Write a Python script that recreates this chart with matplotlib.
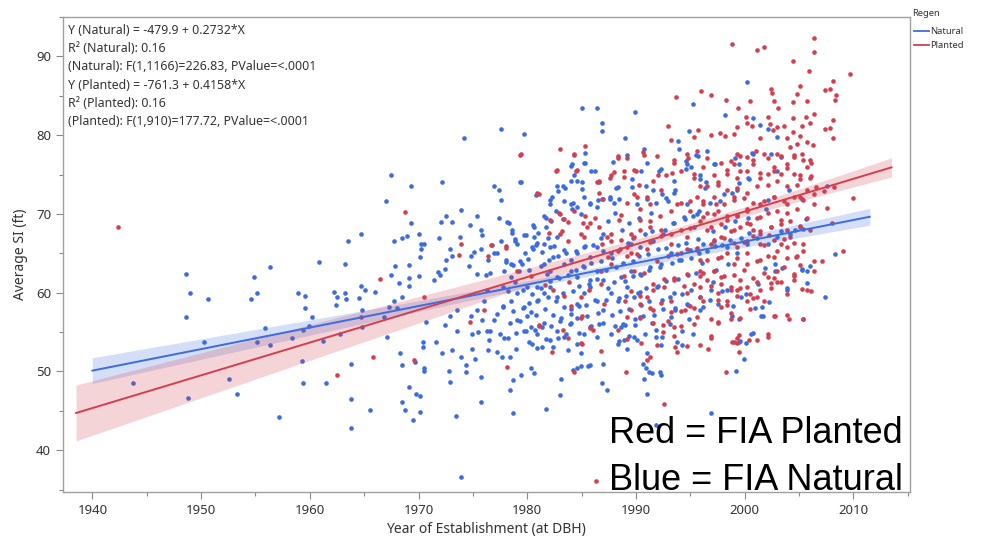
import matplotlib
matplotlib.use("Agg")
import matplotlib.pyplot as plt
import numpy as np
from matplotlib.lines import Line2D
from matplotlib.ticker import MultipleLocator

# data (year of establishment, average SI)
natural_pts = [
    (1948.6, 62.4), (1949.0, 59.9), (1948.6, 56.9), (1950.6, 59.2), (1950.3, 53.8), (1943.7, 48.6),
    (1948.8, 46.6), (1952.6, 49.0), (1953.3, 47.1), (1954.9, 62.0), (1956.3, 63.2), (1955.1, 59.9),
    (1954.6, 59.2), (1955.9, 55.5), (1955.1, 53.8), (1956.3, 53.3), (1957.2, 44.2), (1958.4, 54.3),
    (1958.9, 60.0), (1959.6, 59.6), (1959.6, 58.0), (1960.2, 56.9), (1959.9, 55.8), (1959.4, 55.3),
    (1959.3, 51.3), (1959.4, 48.6), (1961.5, 48.6), (1961.2, 53.9), (1960.8, 63.9), (1963.5, 66.6),
    (1963.2, 63.7), (1962.2, 60.1), (1962.5, 59.5), (1963.2, 59.9), (1963.3, 59.2), (1962.4, 58.4),
    (1962.8, 54.8), (1963.8, 51.0), (1963.8, 46.5), (1963.8, 42.8),
    (1964.7, 67.4), (1967.0, 71.6), (1967.5, 75.0), (1969.3, 73.6), (1969.3, 68.8), (1967.7, 66.6),
    (1968.5, 66.9), (1968.9, 67.2), (1970.0, 67.4), (1970.2, 66.2), (1970.5, 66.2), (1970.2, 65.5),
    (1970.1, 64.5), (1967.5, 62.3), (1967.8, 63.4), (1968.2, 61.2), (1969.1, 63.5), (1969.1, 61.9),
    (1969.1, 60.8), (1970.0, 62.1), (1964.7, 60.9), (1972.2, 74.0), (1974.2, 79.6), (1977.6, 80.8),
    (1979.7, 80.2), (1979.3, 74.1), (1976.9, 73.6), (1977.4, 73.0), (1977.6, 71.8), (1972.1, 69.0),
    (1972.5, 69.8), (1973.1, 69.0), (1971.9, 66.9), (1973.9, 70.5), (1974.7, 68.6), (1975.4, 69.7),
    (1975.7, 68.0), (1977.4, 69.5), (1978.3, 68.9), (1978.6, 68.0), (1973.8, 67.1), (1975.8, 67.3),
    (1976.8, 66.1), (1977.6, 66.6), (1972.9, 65.5), (1973.1, 64.6), (1972.5, 64.1), (1972.4, 63.0),
    (1971.8, 62.6), (1972.0, 62.2), (1971.4, 61.6), (1975.1, 65.2), (1975.7, 65.5), (1976.4, 64.1),
    (1977.2, 65.0), (1976.9, 65.1), (1974.6, 63.4), (1974.8, 64.7), (1975.4, 62.4), (1976.2, 62.3),
    (1976.6, 62.5), (1978.0, 63.9), (1978.5, 63.7), (1978.9, 66.6), (1979.1, 66.2), (1979.5, 63.7),
    (1979.8, 65.0), (1979.7, 67.3), (1980.5, 68.6), (1980.6, 67.1), (1981.0, 67.6), (1980.4, 65.8),
    (1980.8, 66.0), (1981.7, 69.5), (1981.7, 68.3), (1982.1, 71.3), (1982.3, 72.1), (1980.8, 72.4),
    (1982.7, 73.5), (1983.3, 73.5), (1985.0, 83.4), (1986.4, 83.4), (1986.9, 81.5), (1986.9, 80.5),
    (1985.3, 77.7), (1985.3, 76.5), (1984.1, 76.3), (1984.3, 74.9), (1985.0, 74.0), (1985.0, 73.2),
    (1985.9, 75.5), (1987.9, 76.6), (1984.0, 74.2), (1986.6, 74.1), (1988.3, 73.4), (1983.4, 71.7),
    (1984.0, 71.3), (1984.6, 70.9), (1985.2, 72.1), (1985.8, 71.4), (1986.4, 70.9), (1987.0, 71.9),
    (1987.6, 71.9), (1988.0, 71.4), (1988.4, 71.9), (1981.5, 66.2), (1982.1, 65.8), (1982.4, 64.5),
    (1982.7, 67.1), (1983.4, 65.4), (1984.0, 64.1), (1984.6, 65.0), (1985.2, 65.8), (1985.8, 64.5),
    (1986.4, 65.8), (1987.0, 67.5), (1987.7, 65.0), (1982.1, 62.8), (1982.7, 62.0), (1983.4, 63.7),
    (1984.0, 62.8), (1984.6, 62.0), (1985.2, 63.3), (1985.8, 61.6), (1986.4, 62.8), (1987.0, 61.6),
    (1981.5, 63.7), (1981.8, 62.4), (1980.9, 60.7),
    (1964.8, 57.8), (1964.8, 55.6), (1966.0, 60.1), (1964.5, 59.3), (1965.1, 60.3), (1966.8, 56.9),
    (1967.1, 54.4), (1967.7, 59.0), (1968.5, 59.5), (1968.0, 58.0), (1967.3, 58.2), (1965.5, 45.1),
    (1968.3, 52.3), (1968.5, 50.8), (1969.1, 48.0), (1968.5, 46.1), (1968.8, 45.1), (1969.5, 43.8),
    (1969.8, 47.2), (1970.1, 46.9), (1970.1, 44.9), (1970.5, 50.4), (1970.4, 53.1), (1970.4, 53.7),
    (1969.7, 51.2), (1970.5, 50.1), (1970.7, 56.3), (1971.6, 53.7), (1972.2, 52.4), (1972.8, 50.1),
    (1972.9, 48.7), (1973.1, 52.7), (1973.5, 55.2), (1973.9, 51.9), (1974.4, 50.8), (1974.4, 49.9),
    (1975.2, 51.6), (1975.7, 49.3), (1975.7, 46.1), (1973.4, 44.3), (1973.9, 36.6), (1972.4, 55.9),
    (1972.9, 57.1), (1973.5, 57.8), (1974.8, 57.1), (1974.9, 54.8), (1974.9, 52.9), (1975.5, 55.0),
    (1975.8, 56.5), (1976.3, 55.2), (1976.5, 54.0), (1976.4, 52.7), (1977.2, 52.5), (1977.7, 51.9),
    (1977.9, 54.2), (1978.4, 51.9), (1979.0, 52.9), (1978.7, 48.9), (1979.4, 49.5), (1978.4, 47.6),
    (1978.7, 44.7), (1980.3, 50.4), (1980.6, 49.8), (1981.7, 45.3), (1983.0, 47.0), (1983.1, 49.0),
    (1984.2, 50.2), (1984.6, 50.4), (1984.9, 50.7), (1985.6, 50.7), (1985.8, 50.8), (1986.9, 48.5),
    (1987.3, 47.7), (1987.0, 51.0), (1979.7, 58.2), (1980.3, 57.6), (1980.9, 59.0), (1981.5, 59.9),
    (1982.1, 60.7), (1982.7, 59.5), (1983.4, 58.2), (1984.0, 57.3), (1984.6, 58.6), (1985.2, 59.9),
    (1985.8, 60.7), (1986.4, 59.0), (1987.0, 57.8), (1987.7, 59.9), (1988.3, 59.0), (1980.3, 55.6),
    (1980.9, 54.8), (1981.5, 56.1), (1982.1, 54.0), (1982.7, 55.2), (1983.4, 54.4), (1984.0, 56.1),
    (1984.6, 53.5), (1985.2, 54.8), (1985.8, 55.6), (1986.4, 54.4), (1987.0, 56.1), (1987.7, 54.8),
    (1988.3, 53.5), (1979.1, 56.5), (1979.7, 55.2), (1980.4, 53.5), (1981.4, 53.1), (1982.4, 53.1),
    (1983.7, 52.7), (1984.9, 52.3), (1976.9, 56.5), (1977.2, 57.3), (1977.8, 58.2), (1978.5, 59.0),
    (1976.6, 55.2), (1977.5, 54.8), (1976.0, 59.0), (1975.4, 57.8), (1976.3, 60.3), (1977.8, 60.7),
    (1979.1, 59.9), (1980.0, 60.7),
    (1989.9, 83.0), (1989.0, 79.7), (1989.2, 77.5), (1990.7, 78.2), (1995.2, 84.0), (1998.2, 82.6),
    (2000.2, 86.8), (2000.8, 82.2), (2001.4, 81.3), (2002.1, 80.8), (2003.0, 79.8), (1994.9, 80.5),
    (1993.9, 79.2), (1994.0, 78.3), (1995.5, 77.5), (1996.5, 78.0), (1997.2, 76.3), (1994.7, 76.3),
    (1994.6, 75.7), (1992.3, 75.7), (1992.1, 75.4), (1999.5, 76.3), (2000.8, 77.6), (2002.4, 77.6),
    (2003.3, 77.2), (2007.6, 73.6), (1995.9, 74.4), (1996.4, 74.0), (1993.5, 74.2), (1992.4, 72.5),
    (1991.6, 73.0), (1990.9, 73.6), (1989.6, 73.4), (1990.1, 71.3), (1991.0, 71.9), (1992.9, 71.7),
    (1993.5, 72.7), (1994.7, 71.3), (1995.6, 70.0), (1998.1, 72.5), (1999.3, 73.0), (2000.4, 74.4),
    (2002.1, 71.8), (2003.0, 75.5), (2004.1, 73.0), (2005.3, 71.9),
    (2007.4, 59.5), (2008.3, 64.9), (2005.7, 61.2), (2005.7, 62.8), (2005.3, 63.0), (2003.9, 60.4),
    (2003.4, 63.1), (2002.8, 63.7), (2001.9, 63.1), (2002.2, 58.8), (2001.6, 58.2), (2001.7, 57.0),
    (2000.8, 54.9), (2000.1, 53.6), (1999.9, 51.6), (1999.2, 50.0), (1999.5, 53.7), (1998.8, 57.1),
    (1999.5, 56.7), (1998.4, 60.3), (1997.5, 58.6), (1996.2, 58.2), (1995.9, 57.8), (1994.9, 56.7),
    (1994.2, 55.1), (1995.2, 54.8), (1994.2, 53.3), (1993.8, 53.7), (1992.4, 54.4), (1992.3, 53.3),
    (1991.8, 54.4), (1991.0, 52.3), (1990.6, 51.0), (1990.9, 50.4), (1991.2, 49.9), (1991.5, 49.8),
    (1992.2, 49.9), (1992.3, 49.5), (1990.7, 49.0), (1991.0, 47.2), (1990.1, 54.0), (1989.8, 54.4),
    (1989.2, 52.8), (1988.9, 54.0), (1988.6, 55.6), (1989.0, 55.9), (1989.9, 55.9), (1990.4, 56.9),
    (1991.5, 56.1), (1993.2, 56.9), (1993.6, 57.8), (1994.7, 58.6), (1995.9, 59.5), (1996.9, 60.3),
    (1993.5, 59.9), (1991.9, 60.7), (1990.4, 60.1), (1989.8, 59.5), (1989.2, 60.7), (1988.6, 62.0),
    (1989.5, 62.8), (1990.4, 62.4), (1991.3, 63.3), (1992.3, 63.7), (1993.2, 65.0), (1994.1, 64.1),
    (1995.0, 65.4), (1996.2, 66.2), (1997.2, 66.6), (1998.4, 65.8), (1999.3, 65.0), (2000.2, 66.2),
    (2001.1, 66.9), (2002.1, 66.2), (2003.0, 67.1), (2004.2, 67.5), (2005.4, 68.1), (1989.5, 66.2),
    (1990.4, 65.8), (1991.6, 66.6), (1992.5, 67.5), (1993.5, 68.8), (1994.4, 69.6), (1995.3, 68.3),
    (2005.6, 69.4), (1996.9, 44.7), (1991.8, 43.2),
    # dense core, second pass
    (1979.4, 74.1), (1978.1, 69.0), (1978.6, 67.6), (1978.9, 66.8), (1979.9, 67.3), (1980.6, 68.4),
    (1981.5, 69.8), (1982.2, 69.1), (1982.6, 70.4), (1983.3, 69.3), (1984.1, 70.6), (1984.2, 71.4),
    (1984.9, 70.0), (1985.8, 71.2), (1986.5, 71.8), (1980.9, 66.3), (1981.9, 66.9), (1981.4, 65.2),
    (1982.5, 65.9), (1980.5, 65.5), (1980.1, 64.3), (1979.3, 64.0), (1978.7, 63.5), (1978.0, 64.1),
    (1977.9, 62.7), (1978.5, 62.0), (1979.2, 62.8), (1980.2, 62.9), (1981.3, 63.4), (1982.0, 64.2),
    (1982.8, 64.6), (1983.6, 65.1), (1984.5, 65.3), (1985.3, 65.9), (1986.0, 66.1), (1986.8, 67.0),
    (1978.2, 60.2), (1978.9, 61.3), (1979.6, 60.4), (1980.4, 59.8), (1981.3, 60.6), (1982.1, 61.5),
    (1982.9, 61.9), (1983.7, 62.3), (1984.5, 62.9), (1985.1, 63.4), (1985.9, 63.8), (1986.8, 64.0),
    (1977.8, 58.3), (1978.7, 57.7), (1979.6, 58.1), (1980.2, 58.7), (1981.0, 59.1), (1981.9, 59.4),
    (1982.6, 58.9), (1983.3, 60.0), (1984.2, 60.2), (1984.8, 60.8), (1985.7, 61.1), (1986.4, 61.7),
    (1978.4, 56.2), (1979.3, 56.4), (1980.0, 57.0), (1980.8, 57.2), (1981.6, 57.9), (1982.4, 57.2),
    (1983.1, 56.8), (1984.0, 57.9), (1984.8, 58.3), (1985.4, 58.5), (1986.2, 59.1), (1978.2, 54.3),
    (1979.0, 54.9), (1979.9, 55.1), (1980.7, 55.3), (1981.4, 55.6), (1982.2, 55.8), (1983.0, 56.4),
    (1983.9, 56.0), (1984.6, 56.8), (1985.5, 57.0), (1986.5, 57.4), (1980.2, 53.7), (1980.9, 53.0),
    (1981.7, 54.1), (1982.8, 54.3), (1983.6, 54.7), (1984.8, 54.9), (1985.9, 55.8), (1986.6, 56.0),
    (1987.4, 69.1), (1988.1, 70.1), (1988.7, 68.0), (1989.4, 68.9), (1990.3, 69.5), (1991.4, 70.1),
    (1991.8, 71.4), (1992.8, 72.0), (1993.6, 73.1), (1987.6, 72.2), (1988.2, 73.3), (1989.6, 74.4),
    (1990.5, 75.4), (1991.0, 76.5), (1985.2, 76.5), (1986.2, 75.4), (1984.0, 76.1), (1984.6, 74.2),
    (1983.5, 73.3), (1982.1, 71.8), (1982.8, 72.9), (1987.0, 65.3), (1987.8, 64.4), (1988.5, 65.5),
    (1989.3, 66.3), (1989.7, 67.0), (1990.8, 67.4), (1991.5, 67.8), (1992.7, 68.0), (1993.4, 68.9),
    (1994.5, 69.3), (1995.2, 69.7), (1987.2, 62.9), (1988.2, 63.2), (1988.8, 63.8), (1989.7, 64.0),
    (1990.3, 64.6), (1991.1, 64.9), (1992.0, 65.5), (1992.8, 65.7), (1993.9, 66.1), (1994.6, 66.3),
    (1995.7, 66.8), (1987.4, 60.6), (1988.0, 61.3), (1989.0, 61.5), (1989.7, 62.1), (1990.5, 62.3),
    (1991.2, 62.9), (1992.2, 63.2), (1993.3, 63.8), (1994.0, 64.2), (1995.1, 64.4), (1995.8, 65.1),
    (1987.2, 59.1), (1988.4, 59.3), (1989.1, 59.6), (1990.2, 60.0), (1990.9, 60.6), (1992.0, 60.8),
    (1992.8, 61.5), (1993.9, 61.7), (1994.8, 62.3), (1995.5, 62.5), (1987.8, 57.2), (1988.5, 57.7),
    (1989.4, 57.9), (1990.5, 58.5), (1991.2, 58.9), (1992.4, 59.1), (1993.1, 59.4), (1994.2, 59.8),
    (1995.1, 60.4), (1988.1, 55.8), (1988.8, 56.0), (1989.9, 56.6), (1990.6, 57.0), (1991.7, 57.2),
    (1992.5, 57.9), (1993.6, 58.1), (1988.4, 53.9), (1989.4, 54.5), (1990.8, 54.7), (1991.8, 55.3),
    (1993.1, 56.0), (1994.8, 58.5), (1996.5, 65.3), (1997.3, 65.9), (1997.9, 66.1), (1998.6, 66.7),
    (1999.7, 67.0), (2000.4, 67.6), (1997.1, 67.8), (1998.2, 68.4), (1999.1, 69.1), (2000.3, 69.5),
    (1995.8, 70.4), (1996.8, 71.4), (1997.7, 71.6), (1998.8, 72.7), (1999.5, 73.9), (2000.3, 74.6),
    (1996.3, 73.3), (1995.9, 75.0), (1995.1, 75.9), (1994.6, 76.7), (1995.7, 77.3), (1997.3, 76.3),
    (1999.1, 77.1), (2000.7, 77.7), (2002.0, 70.6), (2003.3, 67.8), (2004.6, 68.0), (2006.0, 63.4),
    (2005.3, 62.9), (2003.9, 60.6), (2002.8, 62.7), (2001.2, 61.1), (2000.1, 59.8), (1999.7, 59.4),
    (1998.9, 58.3), (2000.9, 58.1), (2001.5, 57.0), (1999.6, 53.9), (2000.6, 54.7), (1997.1, 61.3),
    (1997.9, 60.2), (1996.8, 59.1), (1997.4, 62.9), (1998.5, 63.6), (1996.1, 63.8),
]

planted_pts = [
    (1942.4, 68.4), (1962.5, 49.5), (1966.5, 61.8), (1968.8, 70.3), (1979.3, 77.5), (1973.9, 66.2),
    (1976.7, 66.1), (1978.0, 65.7), (1973.7, 64.8), (1976.4, 64.7), (1981.1, 72.5), (1983.0, 78.3),
    (1984.3, 77.6), (1985.3, 78.6), (1982.7, 75.6), (1984.5, 75.5), (1986.6, 74.2), (1987.6, 74.5),
    (1988.0, 75.3), (1988.3, 77.1), (1983.0, 70.0), (1983.4, 69.4), (1985.3, 69.7), (1986.9, 71.9),
    (1984.9, 67.4), (1985.5, 68.3), (1985.8, 68.8), (1986.6, 68.3), (1987.3, 67.1), (1987.7, 66.6),
    (1988.4, 69.2), (1982.1, 69.2), (1983.0, 67.5), (1983.7, 66.6), (1985.2, 67.1), (1986.9, 66.2),
    (1987.4, 64.5), (1986.8, 62.8), (1987.7, 63.7),
    (1965.8, 51.8), (1964.7, 56.9), (1970.5, 59.5), (1969.6, 51.5), (1978.1, 50.6), (1984.3, 49.9),
    (1982.3, 52.5), (1986.8, 52.6), (1985.0, 53.5), (1983.3, 55.3), (1981.1, 55.8), (1986.0, 55.3),
    (1974.7, 56.3), (1976.0, 57.8), (1985.0, 57.0), (1987.1, 58.6), (1988.3, 55.3), (1986.3, 36.1),
    (1998.8, 91.6), (2001.1, 90.8), (2001.8, 91.2), (2006.4, 92.3), (2006.4, 90.6), (2004.4, 89.4),
    (2005.9, 88.1), (2009.7, 87.8), (2008.1, 86.9), (2007.4, 85.7), (2007.8, 85.9), (2008.4, 85.1),
    (2008.3, 84.5), (1993.7, 84.8), (1996.0, 85.6), (1996.9, 85.1), (1998.3, 84.5), (1999.4, 83.4),
    (2000.5, 84.3), (2002.4, 85.9), (2002.5, 85.4), (2002.7, 84.3), (2003.1, 83.4), (2004.4, 84.2),
    (2005.1, 86.2), (2005.7, 84.3), (2004.8, 85.2), (2006.4, 82.7), (2005.6, 82.3), (2005.3, 81.2),
    (2004.4, 82.2), (2006.0, 81.5), (2007.4, 80.8), (2007.8, 80.9), (2008.1, 81.9), (2008.1, 79.7),
    (1992.9, 81.1), (1993.2, 79.4), (1995.3, 79.8), (1995.7, 80.7), (1996.9, 80.0), (1997.7, 80.3),
    (1998.2, 79.9), (1999.0, 80.1), (1999.3, 81.0), (2000.1, 82.3), (2000.2, 81.6), (2000.7, 81.2),
    (2001.4, 79.7), (2002.1, 82.3), (2002.3, 81.4), (2002.6, 80.6), (2003.0, 81.0), (2003.6, 81.2),
    (2003.9, 79.7), (2004.4, 80.4), (2005.1, 79.9), (2005.7, 79.1), (2006.3, 78.8), (2004.8, 78.9),
    (2004.2, 78.5), (1988.9, 74.7), (1990.0, 75.5), (1990.6, 77.8), (1992.0, 75.0), (1993.3, 75.2),
    (1993.5, 76.8), (1994.7, 77.6), (1995.6, 78.0), (1995.3, 75.1), (1996.2, 75.9), (1997.5, 74.0),
    (1998.4, 75.1), (1999.0, 76.3), (1999.6, 75.5), (2000.2, 77.2), (2000.8, 76.3), (2001.4, 74.6),
    (2002.1, 75.1), (2002.7, 75.9), (2003.3, 75.1), (2003.9, 76.3), (2004.5, 75.1), (2005.1, 74.4),
    (2005.7, 75.9), (2006.0, 74.6), (2006.6, 73.4), (2007.3, 72.9), (2008.2, 73.4), (2004.5, 77.2),
    (2005.3, 77.6), (2006.0, 76.8), (2003.0, 77.6), (2001.8, 77.6), (2001.0, 78.0), (1999.3, 77.6),
    (1997.4, 71.3), (1999.0, 72.1), (2000.2, 70.4), (2001.4, 71.3), (2002.7, 72.1), (2003.9, 71.3),
    (2005.1, 72.1), (2006.4, 71.3), (2007.6, 70.8), (2010.0, 72.0), (1996.2, 71.3), (1995.0, 70.4),
    (1993.8, 71.3), (1991.3, 71.3), (1990.1, 72.1),
    (2008.0, 68.8), (2009.0, 65.3), (2007.1, 64.0), (2006.4, 62.8), (2005.3, 60.5), (2006.1, 60.2),
    (2005.4, 56.7), (2004.1, 56.7), (2002.8, 57.1), (2004.5, 62.4), (2005.1, 63.5), (2004.7, 64.5),
    (2003.9, 65.8), (2003.3, 66.2), (2005.4, 66.2), (2006.0, 67.9), (2005.1, 68.3), (2004.2, 67.1),
    (2002.2, 67.3), (2000.8, 67.9), (2001.4, 66.2), (2002.7, 64.5), (2003.0, 62.8), (2002.1, 62.0),
    (2001.1, 61.4), (2000.2, 60.7), (1999.3, 60.3), (2000.8, 59.3), (2001.8, 59.0), (2002.4, 61.2),
    (2003.3, 61.4), (2004.5, 61.6), (2002.1, 54.4), (2001.1, 54.0), (2000.4, 54.0), (1999.5, 54.6),
    (1999.5, 52.5), (1999.3, 53.6), (1998.8, 53.7), (1998.3, 49.9), (1996.9, 54.2), (1996.6, 52.8),
    (1995.9, 53.3), (1993.8, 52.5), (1993.6, 53.1), (1992.6, 45.9), (1991.3, 51.8), (1991.0, 51.4),
    (1989.1, 49.9), (1990.5, 53.6), (1992.5, 55.0), (1993.5, 55.6), (1992.5, 55.9), (1991.6, 57.8),
    (1993.2, 57.6), (1994.5, 57.8), (1995.6, 56.9), (1996.9, 56.7), (1997.5, 56.3), (1998.7, 56.7),
    (1997.8, 58.2), (1996.2, 59.0), (1995.3, 58.0), (1994.7, 59.9), (1995.9, 60.7), (1996.5, 61.6),
    (1997.5, 59.9), (1998.4, 59.0), (1998.7, 60.7), (1999.6, 61.6), (1997.8, 62.0), (1997.2, 62.8),
    (1995.9, 62.8), (1994.7, 62.4), (1993.5, 61.6), (1992.6, 60.7), (1991.6, 60.3), (1991.0, 59.5),
    (1990.4, 58.6), (1989.5, 57.8), (1989.2, 56.9), (1989.0, 59.0), (1996.2, 69.6), (1997.2, 70.0),
    (1998.4, 69.2), (1999.3, 69.8), (2000.2, 68.8), (2001.4, 69.6), (2002.4, 68.3), (2003.3, 69.2),
    (2003.9, 67.9), (2001.4, 67.5), (2000.2, 66.6), (1999.3, 65.8), (1997.8, 67.1), (1996.9, 66.2),
    (1995.6, 65.4), (1994.7, 67.1), (1994.1, 65.0), (1993.2, 66.2), (1992.3, 67.9), (1991.3, 68.3),
    (1990.4, 69.2), (1989.8, 67.1), (1989.2, 65.8), (1989.5, 65.0), (1995.9, 64.1), (1997.8, 64.5),
    (1999.0, 63.7), (2000.2, 63.7), (2001.4, 64.1), (1996.5, 67.9), (1999.0, 67.9),
    # dense core, second pass
    (1979.4, 77.6), (1982.6, 75.4), (1980.9, 72.7), (1982.9, 70.1), (1983.7, 69.0), (1982.0, 67.6),
    (1983.2, 67.8), (1978.0, 65.9), (1979.1, 62.7), (1980.3, 62.1), (1981.6, 61.0), (1982.4, 60.4),
    (1983.8, 61.3), (1984.9, 59.4), (1985.7, 60.4), (1986.8, 61.1), (1984.3, 70.4), (1985.1, 68.9),
    (1986.2, 69.5), (1986.6, 72.7), (1987.7, 75.0), (1988.3, 77.3), (1988.9, 75.4), (1986.4, 74.0),
    (1984.6, 75.6), (1984.3, 77.5), (1983.4, 59.6), (1984.9, 56.8), (1985.8, 55.5), (1983.7, 54.3),
    (1981.1, 55.9), (1984.9, 53.6), (1984.0, 58.3), (1989.2, 77.1), (1989.8, 75.6), (1990.3, 73.7),
    (1991.0, 72.2), (1991.6, 74.2), (1992.3, 73.1), (1992.8, 75.0), (1993.5, 76.5), (1994.1, 75.4),
    (1994.8, 77.1), (1995.3, 74.6), (1995.9, 73.5), (1990.7, 77.5), (1991.9, 77.3), (1989.8, 72.5),
    (1989.2, 71.4), (1988.6, 69.9), (1990.4, 70.6), (1991.3, 69.1), (1992.2, 69.7), (1993.2, 70.4),
    (1994.1, 71.4), (1995.0, 71.6), (1995.6, 72.2), (1987.7, 67.4), (1988.6, 66.7), (1989.5, 67.4),
    (1990.4, 68.0), (1991.3, 66.5), (1992.3, 67.2), (1993.2, 67.4), (1994.1, 68.0), (1995.0, 68.2),
    (1995.9, 69.1), (1988.3, 65.3), (1989.2, 64.6), (1990.1, 64.9), (1991.0, 65.5), (1991.9, 64.0),
    (1992.9, 64.6), (1993.8, 64.9), (1994.7, 65.5), (1995.6, 65.7), (1988.9, 62.1), (1989.8, 62.7),
    (1990.7, 62.5), (1991.6, 61.1), (1992.6, 61.7), (1993.5, 61.9), (1994.4, 60.8), (1995.3, 61.1),
    (1995.9, 62.1), (1989.5, 60.2), (1990.4, 59.6), (1991.3, 58.1), (1992.3, 58.7), (1993.2, 58.9),
    (1994.1, 57.7), (1995.0, 58.3), (1995.9, 59.4), (1990.4, 56.8), (1991.6, 56.2), (1992.9, 56.4),
    (1994.1, 55.8), (1995.3, 56.0), (1989.2, 54.1), (1991.9, 53.4), (1993.5, 54.5), (1994.7, 53.2),
    (1996.5, 77.1), (1997.8, 76.5), (1998.7, 76.7), (1999.6, 77.3), (2000.8, 76.9), (2002.1, 77.1),
    (2003.3, 77.3), (2004.5, 77.5), (2005.4, 76.9), (2006.1, 76.5), (1997.2, 75.0), (1998.4, 75.6),
    (1999.3, 74.6), (2000.2, 75.4), (2001.4, 75.2), (2002.7, 75.4), (2003.9, 75.8), (2005.1, 75.0),
    (2006.1, 74.8), (1996.5, 73.5), (1997.5, 73.7), (1998.4, 73.1), (1999.3, 73.3), (2000.2, 72.7),
    (2001.1, 73.5), (2002.1, 73.7), (2003.0, 74.2), (2003.9, 73.5), (2004.8, 73.7), (2005.7, 73.1),
    (1996.2, 71.6), (1997.2, 72.2), (1998.1, 71.2), (1999.0, 71.8), (1999.9, 72.0), (2000.8, 71.4),
    (2001.8, 71.6), (2002.7, 72.2), (2003.6, 71.6), (2004.5, 72.2), (2005.4, 71.8), (2006.4, 72.5),
    (1996.5, 70.1), (1997.5, 70.4), (1998.4, 69.7), (1999.3, 69.9), (2000.2, 70.6), (2001.1, 69.5),
    (2002.1, 70.1), (2003.0, 70.4), (2003.9, 70.1), (2004.8, 70.6), (2005.7, 69.5), (1996.9, 68.4),
    (1997.8, 68.7), (1998.7, 67.8), (1999.6, 68.4), (2000.5, 68.7), (2001.4, 67.8), (2002.4, 68.4),
    (2003.3, 68.7), (2004.2, 69.1), (2005.1, 68.5), (1997.2, 66.7), (1998.1, 67.0), (1999.0, 66.3),
    (1999.9, 66.5), (2000.8, 67.2), (2001.8, 66.1), (2002.7, 66.7), (2003.6, 66.8), (2004.5, 66.3),
    (2005.4, 65.3), (1996.5, 64.2), (1997.5, 64.4), (1998.4, 65.1), (1999.3, 64.4), (2000.2, 65.1),
    (2001.1, 64.0), (2002.1, 64.6), (2003.0, 65.3), (2003.9, 64.4), (2004.8, 64.6), (2006.4, 64.0),
    (1996.2, 62.5), (1997.2, 62.7), (1998.1, 62.1), (1999.0, 62.3), (1999.9, 62.9), (2000.8, 61.9),
    (2001.8, 62.5), (2002.7, 61.9), (2003.6, 63.2), (2004.5, 62.1), (1996.9, 60.8), (1997.8, 61.1),
    (1998.7, 60.4), (1999.6, 60.6), (2000.5, 59.8), (2001.4, 60.4), (2002.4, 60.6), (2003.0, 61.3),
    (2003.9, 59.8), (2005.7, 60.4), (1997.5, 59.1), (1998.4, 58.5), (1999.3, 59.6), (2000.2, 58.9),
    (2001.1, 59.4), (1998.7, 57.4), (1999.6, 56.8), (1997.5, 56.2), (2000.5, 57.9), (2002.7, 57.0),
    (2005.4, 56.6), (1996.9, 54.5), (1999.0, 53.7), (1999.3, 54.3), (2002.1, 54.7), (2003.9, 57.2),
]

nat_year = np.array([p[0] for p in natural_pts])
nat_si = np.array([p[1] for p in natural_pts])
pl_year = np.array([p[0] for p in planted_pts])
pl_si = np.array([p[1] for p in planted_pts])

# fit stats printed on the chart
nat_fit = {"a": -479.9, "b": 0.2732, "F": 226.83, "n": 1168, "x": (1940.0, 2011.5)}
pl_fit = {"a": -761.3, "b": 0.4158, "F": 177.72, "n": 912, "x": (1938.5, 2013.5)}

BLUE = '#3C6CDF'
RED = '#D33F4F'

fig = plt.figure(figsize=(9.84, 5.44), dpi=100, facecolor='white')
ax = fig.add_axes([63/984, 1 - 492/544, (910 - 63)/984, (492 - 17)/544])

ax.scatter(nat_year, nat_si, s=11, color=BLUE, linewidths=0, zorder=3)
ax.scatter(pl_year, pl_si, s=11, color=RED, linewidths=0, zorder=3)


def fit_band(fit, yrs, vals, color):
    xs = np.linspace(fit["x"][0], fit["x"][1], 100)
    ys = fit["a"] + fit["b"] * xs
    resid = vals - (fit["a"] + fit["b"] * yrs)
    s2 = np.var(resid)
    xbar = yrs.mean()
    half = 1.96 * np.sqrt(s2 / fit["n"] + (xs - xbar) ** 2 * fit["b"] ** 2 / fit["F"])
    ax.fill_between(xs, ys - half, ys + half, color=color, alpha=0.22, linewidth=0, zorder=4)
    ax.plot(xs, ys, color=color, lw=1.4, zorder=5)


fit_band(nat_fit, nat_year, nat_si, BLUE)
fit_band(pl_fit, pl_year, pl_si, RED)

ax.set_xlim(1937.3, 2015.2)
ax.set_ylim(34.7, 95.0)
ax.xaxis.set_major_locator(MultipleLocator(10))
ax.xaxis.set_minor_locator(MultipleLocator(5))
ax.yaxis.set_major_locator(MultipleLocator(10))
ax.yaxis.set_minor_locator(MultipleLocator(5))
ax.tick_params(which='major', length=5, width=0.8, color='#888888', labelsize=9.5,
               labelcolor='#333333', direction='out')
ax.tick_params(which='minor', length=3, width=0.8, color='#888888')
for lab in ax.get_xticklabels() + ax.get_yticklabels():
    lab.set_family('Noto Sans')
for sp in ax.spines.values():
    sp.set_color('#A0A0A0')
    sp.set_linewidth(1.0)

ax.set_xlabel('Year of Establishment (at DBH)', fontsize=10, color='#333333', family='Noto Sans', labelpad=4)
ax.set_ylabel('Average SI (ft)', fontsize=10, color='#333333', family='Noto Sans', labelpad=6)

stats_lines = [
    "Y (Natural) = -479.9 + 0.2732*X",
    "R² (Natural): 0.16",
    "(Natural): F(1,1166)=226.83, PValue=<.0001",
    "Y (Planted) = -761.3 + 0.4158*X",
    "R² (Planted): 0.16",
    "(Planted): F(1,910)=177.72, PValue=<.0001",
]
for i, line in enumerate(stats_lines):
    fig.text(68/984, 1 - (34 + i * 18.2)/544, line, fontsize=8.9, color='#333333',
             family='Noto Sans', va='baseline', ha='left')

# legend outside top right
fig.text(912/984, 1 - 16/544, "Regen", fontsize=6.8, color='#333333', family='Noto Sans', va='baseline')
for j, (name, col) in enumerate([("Natural", BLUE), ("Planted", RED)]):
    yy = 1 - (31 + j * 14)/544
    fig.add_artist(Line2D([914/984, 929/984], [yy, yy], color=col, lw=1.3, transform=fig.transFigure))
    fig.text(930/984, yy, name, fontsize=6.8, color='#333333', family='Noto Sans', va='center')

fig.text(903/984, 1 - 443/544, "Red = FIA Planted", fontsize=26, color='black',
         family='Liberation Sans', ha='right', va='baseline', zorder=10)
fig.text(903/984, 1 - 490/544, "Blue = FIA Natural", fontsize=26, color='black',
         family='Liberation Sans', ha='right', va='baseline', zorder=10)

fig.savefig('out.png', dpi=100, facecolor='white')
